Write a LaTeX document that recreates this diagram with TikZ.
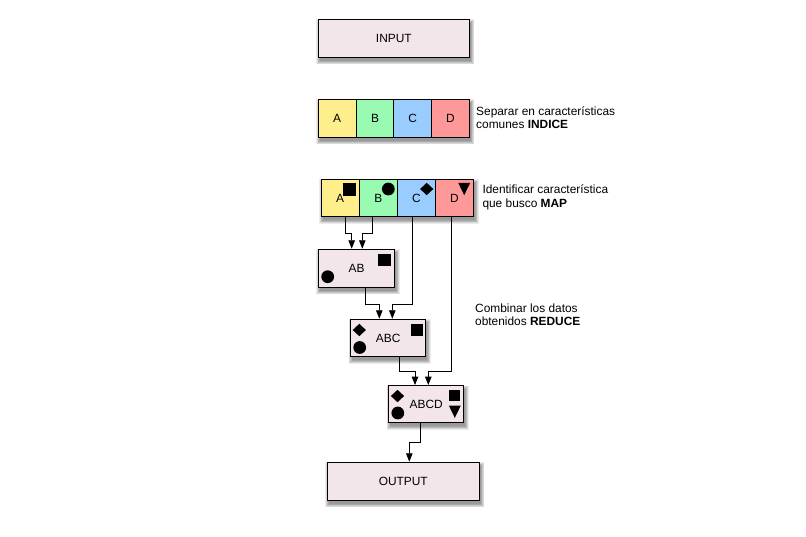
\documentclass[tikz,border=0pt]{standalone}
\usepackage{fontspec}
\setmainfont{Liberation Sans}
\usetikzlibrary{arrows.meta,calc}
\definecolor{boxpink}{RGB}{242,230,234}
\definecolor{cyellow}{RGB}{255,239,140}
\definecolor{cgreen}{RGB}{153,250,178}
\definecolor{cblue}{RGB}{153,204,255}
\definecolor{cred}{RGB}{255,153,153}
\newcommand\softshadow[4]{%
  \foreach \s in {0,...,5}{%
    \fill[black,opacity=0.08] ({#1+1.5-\s*0.7},{#2+3.5-\s*0.7}) rectangle ({#3+1.5+\s*0.7},{#4+3.5+\s*0.7});
  }}
\newcommand\sqmark[3]{\fill (#1-#3,#2-#3) rectangle (#1+#3,#2+#3);}
\newcommand\dotmark[2]{\fill (#1,#2) circle[radius=6.4];}
\newcommand\diamark[2]{\fill (#1-6.6,#2) -- (#1,#2-6.2) -- (#1+6.6,#2) -- (#1,#2+6.2) -- cycle;}
\newcommand\trimark[2]{\fill (#1-6,#2-6.2) -- (#1+6,#2-6.2) -- (#1,#2+6.2) -- cycle;}
\begin{document}
\begin{tikzpicture}[x=1pt,y=-1pt,
  box/.style={draw,line width=1.1pt,fill=boxpink,inner sep=0pt,font=\fontsize{11.9}{13}\selectfont},
  cell/.style={draw,line width=1.1pt,inner sep=0pt,minimum height=38pt,font=\fontsize{11.9}{13}\selectfont},
  arr/.style={line width=0.9pt,-{Triangle[width=6.5pt,length=8.5pt]}},
  lbl/.style={anchor=west,align=left,inner sep=0pt,font=\fontsize{11.9}{13.5}\selectfont}]
\fill[white] (0,0) rectangle (806,536);
\useasboundingbox (0,0) rectangle (806,536);
% shadows
\softshadow{318.3}{19.3}{469.3}{57.3}
\softshadow{318.3}{99.3}{469.3}{137.3}
\softshadow{321.2}{179.3}{473.6}{216.8}
\softshadow{318.3}{249.3}{394.7}{287.3}
\softshadow{350.7}{319.3}{425.7}{356.7}
\softshadow{388.7}{385.7}{463.7}{422.7}
\softshadow{327.3}{462.3}{479.3}{500.3}
% boxes
\node[box,minimum width=151pt,minimum height=38pt] (input) at (393.8,38.3) {INPUT};
\node[cell,minimum width=37.75pt,fill=cyellow] (sA) at (337.2,118.3) {A};
\node[cell,minimum width=37.75pt,fill=cgreen] (sB) at (375,118.3) {B};
\node[cell,minimum width=37.75pt,fill=cblue] (sC) at (412.7,118.3) {C};
\node[cell,minimum width=37.75pt,fill=cred] (sD) at (450.5,118.3) {D};
\node[cell,minimum width=38.1pt,minimum height=37.5pt,fill=cyellow] (mA) at (340.2,198) {A};
\node[cell,minimum width=38.1pt,minimum height=37.5pt,fill=cgreen] (mB) at (378.3,198) {B};
\node[cell,minimum width=38.1pt,minimum height=37.5pt,fill=cblue] (mC) at (416.4,198) {C};
\node[cell,minimum width=38.1pt,minimum height=37.5pt,fill=cred] (mD) at (454.5,198) {D};
\node[box,minimum width=76.4pt,minimum height=38pt] (AB) at (356.5,268.3) {AB};
\node[box,minimum width=75pt,minimum height=37.4pt] (ABC) at (388.2,338) {ABC};
\node[box,minimum width=75pt,minimum height=37pt] (ABCD) at (426.2,404.2) {ABCD};
\node[box,minimum width=152pt,minimum height=38pt] (output) at (403.3,481.3) {OUTPUT};
% markers
\sqmark{349.2}{189.5}{6.5}
\dotmark{388.3}{189}
\diamark{426.7}{189}
\trimark{464.2}{189}
\sqmark{384.5}{260}{6.2}
\dotmark{327.7}{276.7}
\diamark{359.3}{330}
\dotmark{359.7}{347.5}
\sqmark{416.7}{330.2}{6}
\diamark{397.5}{396}
\dotmark{397.8}{413}
\sqmark{454.5}{395.5}{5.6}
\trimark{454.8}{411.7}
% arrows
\draw[arr] ($(mA.south)+(5.5,0)$) -- ++(0,16.5) -| ($(AB.north)+(-4.8,0)$);
\draw[arr] ($(mB.south)+(-6,0)$) -- ++(0,16.5) -| ($(AB.north)+(5.8,0)$);
\draw[arr] ($(mC.south)+(-3.7,0)$) -- ++(0,87.25) -| ($(ABC.north)+(4.1,0)$);
\draw[arr] ($(AB.south)+(9.2,0)$) -- ++(0,16.7) -| ($(ABC.north)+(-8.9,0)$);
\draw[arr] ($(ABC.south)+(11.1,0)$) -- ++(0,14.3) -| ($(ABCD.north)+(-11.2,0)$);
\draw[arr] ($(mD.south)+(-2.8,0)$) -- ++(0,154.25) -| ($(ABCD.north)+(2.1,0)$);
\draw[arr] ($(ABCD.south)+(-5.9,0)$) -- ++(0,19.3) -| ($(output.north)+(6,0)$);
% labels
\node[lbl] (t1) at (476,117.7) {Separar en características\\comunes \textbf{INDICE}};
\node[lbl] (t2) at (482.3,197.5) {Identificar característica\\que busco \textbf{MAP}};
\node[lbl] (t3) at (475,314.5) {Combinar los datos\\obtenidos \textbf{REDUCE}};
\end{tikzpicture}
\end{document}
